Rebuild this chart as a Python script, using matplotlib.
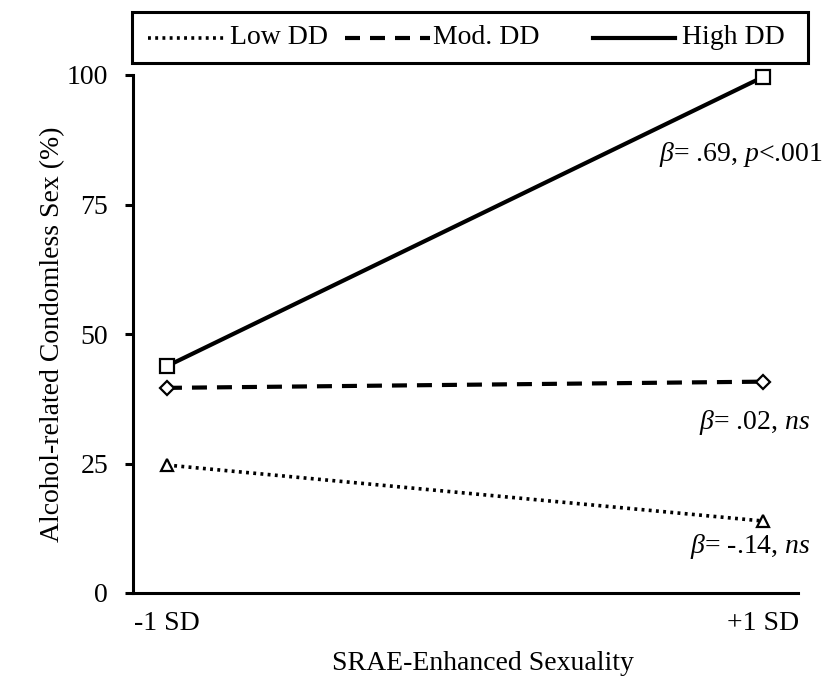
import matplotlib.pyplot as plt
from matplotlib.lines import Line2D
from matplotlib.patches import Rectangle

plt.rcParams["font.family"] = ["Liberation Serif", "DejaVu Serif"]
plt.rcParams["mathtext.fontset"] = "custom"
plt.rcParams["mathtext.rm"] = "Liberation Serif"
plt.rcParams["mathtext.it"] = "Liberation Serif:italic"

x_labels = ["-1 SD", "+1 SD"]
series = ["Low DD", "Mod. DD", "High DD"]
low_dd = [24.7, 13.9]
mod_dd = [39.6, 40.8]
high_dd = [43.8, 99.6]
notes = [r"$\beta$= -.14, $ns$", r"$\beta$= .02, $ns$", r"$\beta$= .69, $p$<.001"]
note_y = [8.9, 33.0, 84.6]
note_x = [1.08, 1.08, 1.1]

styles = [
    dict(ls=(0, (0.8, 1.2)), lw=2.6, marker="^", ms=9),
    dict(ls=(0, (3.6, 2.4)), lw=3, marker="D", ms=7.5),
    dict(ls="-", lw=3, marker="s", ms=9.5),
]

W, H = 832, 682
fig = plt.figure(figsize=(W / 100, H / 100), dpi=100)
ax = fig.add_axes([133 / W, 1 - 593 / H, (798 - 133) / W, (593 - 75) / H])

xs = [0, 1]
for vals, st in zip([low_dd, mod_dd, high_dd], styles):
    ax.plot(xs, vals, color="black", linestyle=st["ls"], lw=st["lw"],
            marker=st["marker"], ms=st["ms"], mfc="white", mec="black", mew=1.6,
            clip_on=False, zorder=3)

ax.set_xlim(-0.057, 1.059)
ax.set_ylim(0, 100)
ax.set_yticks([0, 25, 50, 75, 100])
ax.set_xticks(xs)
ax.set_xticklabels(x_labels)
ax.tick_params(axis="y", direction="out", length=6, width=2.2, labelsize=20, pad=12)
ax.tick_params(axis="x", length=0, labelsize=20, pad=13)
for side in ["top", "right"]:
    ax.spines[side].set_visible(False)
for side in ["left", "bottom"]:
    ax.spines[side].set_linewidth(2.2)

ax.set_ylabel("Alcohol-related Condomless Sex (%)", fontsize=20)
ax.yaxis.set_label_coords(-0.102, 0.5)
ax.set_xlabel("SRAE-Enhanced Sexuality", fontsize=20)
ax.xaxis.set_label_coords(0.526, -0.112)

for txt, xx, yy in zip(notes, note_x, note_y):
    ax.text(xx, yy, txt, ha="right", va="center", fontsize=20)

# legend box drawn by hand so the uneven column spacing matches
fig.patches.append(Rectangle((132 / W, 1 - 63 / H), 676 / W, 51 / H,
                             transform=fig.transFigure, facecolor="white",
                             edgecolor="black", lw=2.2))
handle_x = [(148, 227), (345, 430), (593, 675)]
text_x = [230, 433, 682]
leg_y = 1 - 38 / H
for st, (x0, x1), tx, name in zip(styles, handle_x, text_x, series):
    fig.add_artist(Line2D([x0 / W, x1 / W], [leg_y, leg_y], transform=fig.transFigure,
                          color="black", linestyle=st["ls"], lw=st["lw"]))
    fig.text(tx / W, leg_y, name, ha="left", va="center", fontsize=20)

fig.savefig("out.png", dpi=100)
